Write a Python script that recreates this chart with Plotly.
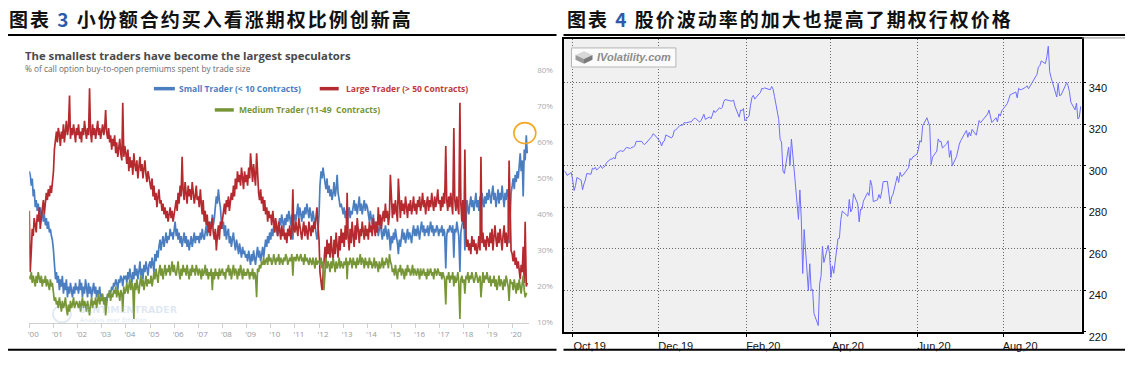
import pandas as pd
import plotly.graph_objects as go

W, H = 1141, 365

# ---------------- Left chart data (semi-monthly, % of call BTO premiums) ----------------
SMALL_TRADER = [
    52, 51, 48, 50, 45, 47, 42, 44, 41, 43, 40, 42, 39, 41, 38, 40, 37, 39, 36, 38, 35, 36, 34, 33,  # 2000
    30, 26, 22, 24, 21, 23, 19, 22, 20, 23, 18, 21, 19, 22, 17, 20, 18, 21, 19, 17, 20, 18, 21, 19,  # 2001
    20, 18, 22, 19, 21, 17, 20, 18, 22, 19, 17, 21, 18, 20, 17, 19, 21, 18, 20, 17, 19, 18, 20, 17,  # 2002
    18, 16, 17, 15, 17, 16, 18, 17, 19, 18, 20, 19, 21, 20, 22, 21, 19, 22, 21, 23, 22, 20, 23, 22,  # 2003
    23, 21, 24, 22, 25, 23, 21, 24, 22, 26, 23, 25, 22, 24, 27, 23, 25, 22, 26, 24, 27, 25, 23, 26,  # 2004
    27, 25, 28, 26, 24, 29, 27, 30, 28, 31, 33, 30, 32, 34, 31, 33, 35, 32, 34, 33, 36, 34, 35, 33,  # 2005
    35, 38, 34, 36, 33, 35, 32, 34, 31, 33, 35, 32, 34, 31, 33, 30, 32, 34, 31, 33, 35, 32, 34, 33,  # 2006
    34, 32, 35, 33, 36, 34, 33, 35, 37, 34, 36, 35, 38, 36, 40, 37, 39, 42, 45, 43, 47, 44, 42, 38,  # 2007
    36, 38, 34, 37, 33, 35, 36, 32, 34, 31, 33, 35, 32, 30, 33, 31, 29, 32, 30, 28, 31, 29, 30, 28,  # 2008
    29, 27, 30, 28, 26, 29, 27, 30, 28, 26, 29, 31, 28, 30, 27, 29, 31, 28, 30, 33, 31, 34, 32, 35,  # 2009
    33, 36, 34, 37, 35, 38, 36, 34, 37, 39, 37, 40, 38, 36, 39, 37, 40, 38, 41, 39, 37, 40, 33, 39,  # 2010
    40, 38, 41, 43, 39, 42, 40, 38, 41, 39, 42, 40, 43, 41, 39, 42, 40, 38, 41, 39, 37, 36, 33, 35,  # 2011
    40, 48, 52, 50, 53, 51, 49, 47, 50, 46, 48, 45, 47, 44, 46, 49, 45, 47, 51, 46, 44, 42, 43, 41,  # 2012
    40, 42, 39, 41, 35, 40, 42, 39, 41, 40, 42, 44, 41, 43, 40, 42, 45, 41, 43, 40, 42, 44, 41, 43,  # 2013
    42, 40, 38, 41, 39, 37, 40, 36, 38, 35, 37, 34, 36, 38, 35, 33, 36, 34, 37, 35, 33, 36, 34, 30,  # 2014
    34, 32, 35, 33, 36, 34, 32, 29, 33, 31, 34, 36, 33, 35, 32, 34, 36, 33, 35, 34, 32, 35, 37, 34,  # 2015
    36, 34, 37, 35, 33, 36, 38, 35, 37, 34, 36, 35, 37, 34, 36, 38, 35, 37, 34, 36, 35, 37, 36, 34,  # 2016
    36, 35, 37, 34, 36, 35, 25, 34, 36, 35, 37, 36, 35, 37, 28, 36, 35, 38, 36, 34, 24, 35, 37, 38,  # 2017
    40, 30, 41, 44, 42, 40, 43, 45, 42, 44, 41, 43, 46, 42, 44, 41, 45, 33, 46, 44, 42, 45, 43, 46,  # 2018
    44, 47, 45, 43, 46, 48, 44, 46, 42, 45, 47, 43, 46, 44, 48, 45, 42, 46, 44, 47, 45, 32, 43, 46,  # 2019
    48, 50, 47, 51, 49, 52, 50, 54, 57, 52, 55, 45, 58, 55, 62, 57,                                  # 2020
]
LARGE_TRADER = [
    41, 24, 30, 36, 34, 39, 37, 35, 40, 38, 42, 36, 39, 41, 44, 40, 43, 46, 44, 47, 45, 48, 46, 49,  # 2000
    52, 58, 61, 63, 60, 64, 62, 59, 63, 61, 65, 60, 63, 66, 62, 64, 73, 61, 64, 62, 65, 63, 60, 64,  # 2001
    62, 65, 61, 63, 60, 64, 62, 66, 63, 61, 64, 62, 75, 63, 60, 65, 62, 64, 61, 63, 66, 62, 64, 61,  # 2002
    63, 65, 62, 64, 69, 63, 61, 64, 60, 62, 58, 61, 59, 62, 57, 60, 56, 59, 61, 57, 55, 71, 56, 59,  # 2003
    57, 54, 58, 52, 56, 53, 55, 51, 57, 54, 52, 55, 50, 53, 56, 52, 54, 50, 53, 55, 51, 49, 52, 50,  # 2004
    49, 47, 50, 45, 48, 44, 46, 42, 45, 47, 43, 44, 41, 43, 40, 42, 39, 41, 38, 40, 42, 39, 41, 38,  # 2005
    40, 42, 44, 41, 46, 43, 48, 45, 56, 47, 44, 49, 46, 43, 48, 45, 47, 44, 49, 46, 43, 45, 48, 44,  # 2006
    45, 42, 47, 43, 40, 44, 38, 41, 37, 40, 35, 38, 34, 37, 39, 35, 33, 36, 30, 34, 37, 33, 38, 36,  # 2007
    38, 41, 43, 40, 44, 42, 45, 41, 43, 46, 44, 48, 45, 50, 47, 52, 49, 51, 48, 53, 50, 47, 52, 49,  # 2008
    51, 48, 53, 50, 57, 52, 49, 54, 51, 48, 57, 49, 46, 44, 47, 43, 45, 41, 44, 40, 42, 38, 41, 39,  # 2009
    40, 37, 41, 38, 35, 39, 36, 34, 38, 35, 33, 37, 34, 36, 33, 35, 32, 36, 34, 37, 33, 35, 47, 36,  # 2010
    35, 38, 36, 34, 39, 37, 35, 33, 36, 38, 34, 37, 35, 33, 38, 36, 34, 37, 35, 38, 36, 39, 42, 37,  # 2011
    33, 24, 21, 19, 23, 28, 31, 27, 33, 29, 32, 28, 34, 30, 27, 33, 29, 35, 31, 28, 34, 30, 36, 32,  # 2012
    35, 31, 37, 33, 46, 34, 30, 36, 32, 38, 34, 31, 37, 33, 39, 35, 32, 36, 34, 38, 35, 33, 37, 34,  # 2013
    36, 33, 38, 35, 37, 34, 39, 36, 34, 38, 35, 42, 37, 40, 36, 39, 41, 38, 43, 39, 41, 37, 40, 51,  # 2014
    42, 39, 43, 40, 44, 41, 38, 50, 42, 39, 44, 41, 43, 40, 45, 42, 39, 43, 41, 44, 40, 42, 45, 41,  # 2015
    43, 40, 44, 42, 45, 41, 43, 46, 42, 44, 40, 43, 45, 41, 44, 42, 46, 43, 41, 45, 42, 44, 47, 43,  # 2016
    44, 41, 45, 42, 46, 43, 59, 44, 41, 45, 42, 46, 43, 40, 64, 44, 41, 45, 42, 40, 71, 43, 38, 44,  # 2017
    36, 58, 34, 31, 33, 30, 32, 29, 34, 31, 33, 30, 32, 29, 31, 34, 30, 56, 32, 35, 31, 33, 30, 34,  # 2018
    33, 31, 35, 32, 36, 30, 34, 37, 33, 31, 35, 32, 36, 33, 30, 34, 37, 32, 35, 31, 34, 55, 36, 30,  # 2019
    29, 27, 30, 26, 28, 25, 27, 24, 22, 26, 24, 31, 21, 38, 20, 21,                                  # 2020
]
MEDIUM_TRADER = [
    23, 22, 24, 21, 23, 22, 20, 23, 21, 24, 22, 21, 23, 20, 22, 21, 23, 20, 22, 21, 19, 22, 20, 21,  # 2000
    18, 16, 17, 15, 16, 14, 17, 15, 13, 16, 14, 15, 17, 14, 12, 15, 13, 16, 14, 15, 17, 14, 15, 16,  # 2001
    15, 14, 16, 13, 15, 17, 14, 16, 15, 13, 16, 14, 12, 15, 17, 14, 16, 15, 17, 14, 16, 18, 15, 17,  # 2002
    16, 18, 15, 17, 12, 16, 18, 17, 19, 16, 18, 17, 19, 18, 20, 17, 19, 18, 16, 19, 18, 13, 20, 18,  # 2003
    19, 21, 18, 20, 22, 19, 21, 20, 11, 21, 19, 22, 20, 18, 21, 23, 20, 22, 19, 21, 23, 20, 22, 21,  # 2004
    21, 23, 20, 22, 24, 22, 25, 23, 21, 24, 26, 23, 25, 22, 24, 26, 23, 25, 24, 26, 23, 25, 27, 24,  # 2005
    26, 24, 23, 25, 27, 24, 22, 25, 23, 26, 24, 25, 23, 26, 24, 22, 25, 23, 26, 24, 25, 23, 26, 24,  # 2006
    23, 25, 24, 22, 25, 23, 24, 26, 23, 25, 22, 24, 23, 25, 19, 24, 22, 25, 23, 24, 22, 25, 23, 24,  # 2007
    25, 23, 24, 22, 25, 24, 26, 23, 25, 22, 24, 26, 23, 25, 24, 22, 25, 23, 26, 24, 22, 25, 23, 24,  # 2008
    23, 25, 24, 22, 24, 23, 25, 22, 24, 23, 17, 25, 24, 26, 25, 27, 26, 28, 26, 27, 28, 26, 29, 27,  # 2009
    28, 26, 27, 29, 27, 26, 28, 27, 29, 26, 28, 27, 26, 28, 27, 29, 28, 26, 27, 28, 27, 29, 23, 28,  # 2010
    28, 27, 29, 28, 27, 28, 29, 27, 28, 26, 29, 27, 28, 27, 26, 28, 27, 26, 28, 27, 25, 28, 26, 27,  # 2011
    27, 26, 28, 25, 27, 19, 26, 28, 25, 27, 26, 24, 27, 25, 28, 26, 24, 27, 25, 26, 28, 25, 27, 26,  # 2012
    25, 27, 26, 28, 22, 27, 26, 28, 27, 25, 28, 26, 27, 25, 28, 26, 27, 29, 26, 28, 27, 25, 28, 26,  # 2013
    27, 25, 28, 26, 27, 25, 26, 28, 25, 27, 26, 24, 27, 25, 26, 28, 25, 27, 26, 28, 27, 25, 29, 27,  # 2014
    26, 24, 25, 23, 26, 24, 22, 25, 24, 26, 23, 25, 24, 22, 25, 23, 26, 24, 25, 23, 24, 26, 23, 25,  # 2015
    24, 23, 25, 24, 22, 25, 23, 24, 25, 23, 24, 22, 25, 23, 24, 25, 23, 24, 22, 25, 24, 23, 25, 24,  # 2016
    23, 24, 22, 24, 23, 22, 15, 23, 22, 24, 21, 23, 22, 24, 20, 23, 21, 22, 24, 21, 11, 22, 23, 21,  # 2017
    22, 18, 23, 22, 24, 21, 23, 22, 24, 23, 21, 22, 24, 23, 21, 22, 23, 17, 22, 24, 21, 23, 22, 24,  # 2018
    22, 21, 23, 20, 22, 21, 23, 20, 22, 19, 21, 23, 20, 22, 21, 19, 22, 20, 23, 21, 20, 16, 22, 21,  # 2019
    21, 19, 22, 20, 18, 21, 19, 22, 20, 18, 21, 23, 19, 17, 18, 18,                                  # 2020
]
LEFT_YEAR_LABELS = ["'%02d" % (y % 100) for y in range(2000, 2021)]
LEFT_Y_TICKS = [10, 20, 30, 40, 50, 60, 70, 80]

# ---------------- Right chart data (daily close, Sep 2019 - Sep 2020) ----------------
PRICE = [
    297.6, 297.0, 295.4, 296.8,                                                                      # Sep 19
    293.2, 288.1, 290.4, 294.4, 293.1, 288.5, 291.3, 293.2, 296.3, 296.0, 298.9, 298.4, 299.3, 298.0,
    300.0, 298.8, 299.4, 300.0, 301.6, 303.3, 303.2, 304.1, 303.3,                                    # Oct 19
    306.1, 307.4, 307.0, 307.1, 308.2, 308.9, 308.4, 309.0, 309.1, 309.6, 311.8, 311.9, 311.8, 310.7,
    310.3, 311.0, 313.4, 314.1, 315.5, 314.3,                                                         # Nov 19
    311.6, 309.6, 311.5, 312.0, 314.9, 313.9, 313.5, 314.4, 317.1, 317.3, 319.5, 319.6, 319.6, 320.9,
    320.7, 321.2, 321.2, 322.9, 322.9, 321.1, 321.9,                                                  # Dec 19
    324.9, 322.4, 323.6, 322.7, 324.5, 326.7, 325.7, 328.0, 327.5, 328.2, 330.9, 332.0, 331.3, 331.3,
    331.7, 328.8, 323.5, 326.9, 326.6, 327.7, 321.7,                                                  # Jan 20
    324.1, 329.1, 332.9, 334.0, 332.2, 334.7, 335.3, 337.4, 337.1, 337.6, 336.7, 338.3, 337.0, 333.5,
    322.4, 312.7, 311.5, 297.5, 296.3,                                                                # Feb 20
    309.1, 300.2, 312.9, 302.5, 297.5, 274.2, 288.4, 274.4, 248.1, 269.3, 239.9, 252.8, 240.0, 240.5,
    228.8, 223.0, 243.2, 246.8, 261.2, 253.4, 261.7, 257.8,                                           # Mar 20
    246.2, 251.8, 248.2, 264.9, 265.1, 274.0, 278.2, 275.7, 283.8, 277.8, 279.1, 286.6, 281.6, 273.0,
    279.1, 279.1, 283.0, 287.1, 285.7, 293.2, 290.5,                                                  # Apr 20
    282.8, 283.6, 286.2, 284.3, 287.7, 292.4, 292.5, 286.7, 281.6, 285.0, 286.3, 295.0, 292.0, 296.9,
    294.9, 295.4, 299.1, 303.5, 303.0, 304.3,                                                         # May 20
    305.6, 308.1, 312.2, 311.4, 319.3, 323.2, 320.8, 319.0, 300.6, 304.2, 307.1, 313.0, 311.7, 311.8,
    308.6, 310.6, 312.1, 304.1, 307.4, 300.1, 304.5, 308.4,                                           # Jun 20
    310.5, 312.2, 317.1, 313.8, 316.2, 314.4, 317.6, 314.8, 318.9, 321.9, 320.8, 321.7, 324.3, 325.0,
    326.9, 323.0, 320.9, 323.2, 321.2, 325.1, 324.0, 326.5,                                           # Jul 20
    328.8, 330.1, 332.1, 334.3, 334.6, 335.6, 332.8, 337.4, 336.8, 336.8, 337.9, 338.6, 337.2, 338.3,
    339.5, 342.9, 344.1, 347.6, 348.3, 350.6, 349.3,                                                  # Aug 20
    352.6, 357.7, 345.4, 342.6, 333.2, 339.8, 333.9, 334.1, 338.5, 340.2, 338.8, 335.8, 330.7, 327.0,
    330.3, 322.6, 323.5, 328.7,                                                                       # Sep 20
]
MARKET_HOLIDAYS = ["2019-11-28", "2019-12-25", "2020-01-01", "2020-01-20", "2020-02-17",
                   "2020-04-10", "2020-05-25", "2020-07-03", "2020-09-07"]
RIGHT_X_TICKS = ["2019-10-01", "2019-12-01", "2020-02-01", "2020-04-01", "2020-06-01", "2020-08-01"]
RIGHT_X_LABELS = ["Oct,19", "Dec,19", "Feb,20", "Apr,20", "Jun,20", "Aug,20"]
RIGHT_Y_TICKS = [220, 240, 260, 280, 300, 320, 340]

# ---------------- helpers ----------------
def fx(x):
    return x / W

def fy(y):
    return 1 - y / H

n_left = min(len(SMALL_TRADER), len(LARGE_TRADER), len(MEDIUM_TRADER))
left_dates = pd.date_range("2000-01-01", periods=n_left, freq="SMS")
right_dates = pd.bdate_range("2019-09-25", "2020-09-30", freq="C", holidays=MARKET_HOLIDAYS)
n_right = min(len(right_dates), len(PRICE))

BLUE, RED, GREEN = "#4a7ec1", "#b52a2e", "#779638"

fig = go.Figure()
fig.add_trace(go.Scatter(x=left_dates[:n_left], y=SMALL_TRADER[:n_left], mode="lines",
                         line=dict(color=BLUE, width=1.7), name="Small Trader (< 10 Contracts)",
                         xaxis="x", yaxis="y", showlegend=False))
fig.add_trace(go.Scatter(x=left_dates[:n_left], y=LARGE_TRADER[:n_left], mode="lines",
                         line=dict(color=RED, width=1.7), name="Large Trader (> 50 Contracts)",
                         xaxis="x", yaxis="y", showlegend=False))
fig.add_trace(go.Scatter(x=left_dates[:n_left], y=MEDIUM_TRADER[:n_left], mode="lines",
                         line=dict(color=GREEN, width=1.7), name="Medium Trader (11-49  Contracts)",
                         xaxis="x", yaxis="y", showlegend=False))
fig.add_trace(go.Scatter(x=right_dates[:n_right], y=PRICE[:n_right], mode="lines",
                         line=dict(color="#6e6eff", width=1), name="Price",
                         xaxis="x2", yaxis="y2", showlegend=False))

shapes = []
annotations = []

def hline(x0, x1, y, color="black", width=2):
    shapes.append(dict(type="line", xref="paper", yref="paper", x0=fx(x0), x1=fx(x1),
                       y0=fy(y), y1=fy(y), line=dict(color=color, width=width)))

def text(t, x, y, size, color, family="Open Sans", xanchor="left", yanchor="middle", **kw):
    annotations.append(dict(text=t, x=fx(x), y=fy(y), xref="paper", yref="paper", showarrow=False,
                            xanchor=xanchor, yanchor=yanchor, borderpad=0,
                            font=dict(size=size, color=color, family=family), **kw))

# separators
hline(7, 556, 30.5)
hline(563, 1125, 30.5)
hline(7, 556, 360.5)
hline(563, 1125, 360.5)
hline(1082, 1125, 33.5, color="#888", width=1)

# Chinese titles
CJK = "Noto Sans CJK SC"
SP = "<span style='letter-spacing:2px'>"
text("<b>" + SP + "图表 <span style='color:#2f5aa8'>3</span> 小份额合约买入看涨期权比例创新高</span></b>",
     7, 13.5, 19, "#111", CJK)
text("<b>" + SP + "图表 <span style='color:#2f5aa8'>4</span> 股价波动率的加大也提高了期权行权价格</span></b>",
     565, 13.5, 19, "#111", CJK)

# Left chart header texts
text("<b>The smallest traders have become the largest speculators</b>", 23, 51.5, 11.3, "#4a4a4a")
text("% of call option buy-to-open premiums spent by trade size", 23, 65.7, 8.3, "#6a6a6a")

# custom legend
for (x0, x1, y, col) in [(153, 174, 86.7, BLUE), (319, 338, 86.7, RED), (214, 233, 109, GREEN)]:
    shapes.append(dict(type="line", xref="paper", yref="paper", x0=fx(x0), x1=fx(x1),
                       y0=fy(y), y1=fy(y), line=dict(color=col, width=3.5)))
text("<b>Small Trader (< 10 Contracts)</b>", 177, 86.7, 8.5, BLUE)
text("<b>Large Trader (> 50 Contracts)</b>", 344, 86.7, 8.5, "#c0393b")
text("<b>Medium Trader (11-49  Contracts)</b>", 237, 109, 8.5, GREEN)

# highlight circle
shapes.append(dict(type="circle", xref="paper", yref="paper", x0=fx(513.3), x1=fx(535.3),
                   y0=fy(144.3), y1=fy(122.3), line=dict(color="#f5a623", width=1.6)))

# watermark
shapes.append(dict(type="circle", xref="paper", yref="paper", x0=fx(52), x1=fx(70),
                   y0=fy(332), y1=fy(314), line=dict(color="rgba(170,195,220,0.35)", width=2),
                   layer="below"))
text("<b>SENTIMENTRADER</b>", 77, 318.5, 9.5, "rgba(160,190,220,0.35)", "DejaVu Sans")
text("Analysis over Emotion", 78, 329, 6, "rgba(160,190,220,0.4)", "DejaVu Sans")

# right chart background
shapes.append(dict(type="rect", xref="paper", yref="paper", x0=fx(563.7), x1=fx(1081.5),
                   y0=fy(341.7), y1=fy(35), fillcolor="#f0f0f0", line=dict(width=0), layer="below"))

# IVolatility logo
shapes.append(dict(type="rect", xref="paper", yref="paper", x0=fx(571), x1=fx(675.5),
                   y0=fy(64), y1=fy(44), fillcolor="#fbfbfb", line=dict(color="#b5b5b5", width=1)))

def poly(pts, color):
    path = "M " + " L ".join("%f,%f" % (fx(a), fy(b)) for a, b in pts) + " Z"
    shapes.append(dict(type="path", xref="paper", yref="paper", path=path,
                       fillcolor=color, line=dict(width=0)))

poly([(583.5, 47.5), (592, 51.5), (583.5, 55.5), (575, 51.5)], "#d8d8d8")
poly([(575, 51.5), (583.5, 55.5), (583.5, 60.5), (575, 56.5)], "#9a9a9a")
poly([(583.5, 55.5), (592, 51.5), (592, 56.5), (583.5, 60.5)], "#7a7a7a")
text("<b><i>IVolatility.com</i></b>", 596, 54, 11, "#8c8c8c", "Liberation Sans")

fig.update_layout(
    width=W, height=H, autosize=False,
    margin=dict(l=0, r=0, t=0, b=0),
    paper_bgcolor="white", plot_bgcolor="rgba(0,0,0,0)",
    shapes=shapes, annotations=annotations,
    xaxis=dict(domain=[fx(28.3), fx(528.6)], anchor="y", type="date",
               range=["2000-01-01", "2020-09-13"],
               tickvals=[pd.Timestamp(y, 1, 1) for y in range(2000, 2021)],
               ticktext=LEFT_YEAR_LABELS, ticks="outside", ticklen=4, tickcolor="#cfcfcf",
               showline=True, linecolor="#cfcfcf", linewidth=1, showgrid=False, zeroline=False,
               tickfont=dict(size=8, color="#999", family="Open Sans"), ticklabelshift=4),
    yaxis=dict(domain=[fy(332), fy(67.5)], anchor="x", range=[10, 80], side="right",
               tickvals=LEFT_Y_TICKS, ticktext=["%d%%" % v for v in LEFT_Y_TICKS],
               showgrid=False, zeroline=False, showline=False, ticks="",
               tickfont=dict(size=8, color="#aaa", family="Open Sans"), ticklabelstandoff=7),
    xaxis2=dict(domain=[fx(563.7), fx(1081.5)], anchor="y2", type="date",
                range=["2019-09-25", "2020-09-25 14:00"],
                tickvals=RIGHT_X_TICKS, ticktext=RIGHT_X_LABELS,
                showgrid=True, gridcolor="#666", griddash="1px,2px", gridwidth=1,
                showline=True, linecolor="black", linewidth=2, mirror=True, zeroline=False,
                ticks="outside", ticklen=3, tickcolor="black",
                tickfont=dict(size=11, color="#111", family="Liberation Sans"), ticklabelshift=17),
    yaxis2=dict(domain=[fy(341.7), fy(35)], anchor="x2", range=[220, 361], side="right",
                tickvals=RIGHT_Y_TICKS,
                showgrid=True, gridcolor="#666", griddash="1px,2px", gridwidth=1,
                showline=True, linecolor="black", linewidth=2, mirror=True, zeroline=False,
                ticks="outside", ticklen=2, tickcolor="black",
                tickfont=dict(size=11, color="#111", family="Liberation Sans"),
                ticklabelshift=5, ticklabelstandoff=1),
)

fig.write_html("out.html", post_script="document.body.style.margin='0px';",
               config={"displayModeBar": False})
